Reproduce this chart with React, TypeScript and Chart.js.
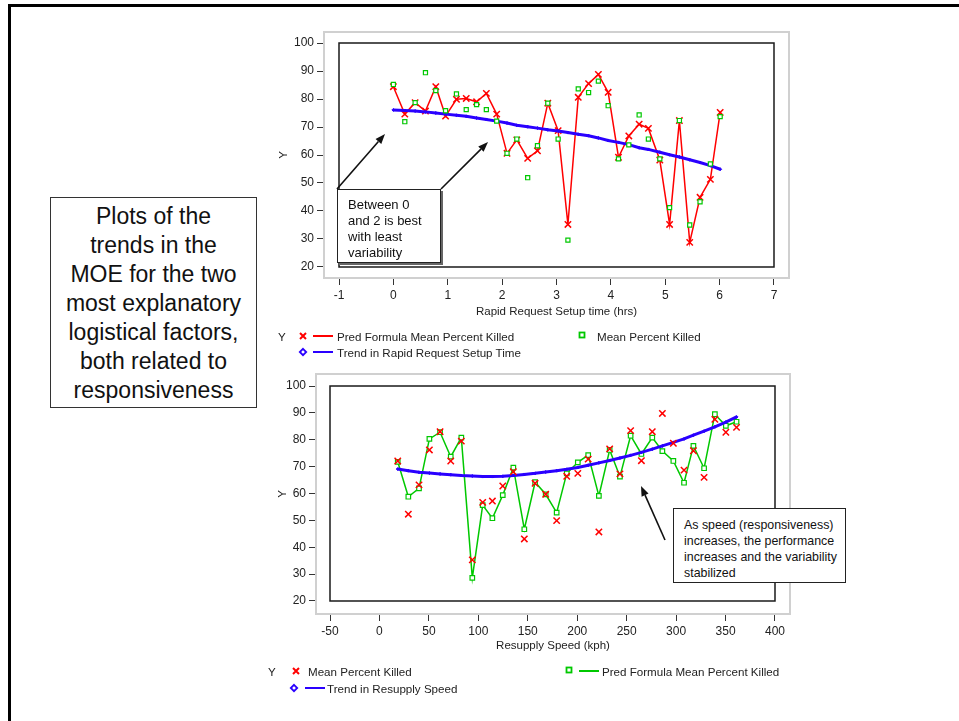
import React, { useEffect, useRef } from "react";
import { Chart, registerables } from "chart.js";

Chart.register(...registerables);

const FONT = '"Liberation Sans", Arial, Helvetica, sans-serif';
const RED = "#ff0000";
const GREEN = "#00c800";
const BLUE = "#2a00ff";

// ---------- Top chart: Rapid Request Setup time ----------
const setupTimes = [0.0, 0.21, 0.4, 0.59, 0.78, 0.96, 1.16, 1.34, 1.53, 1.71, 1.9, 2.09, 2.27, 2.47, 2.65, 2.84, 3.03, 3.21, 3.4, 3.59, 3.77, 3.95, 4.14, 4.33, 4.52, 4.69, 4.9, 5.08, 5.26, 5.45, 5.64, 5.83, 6.01];
const setupPred = [84.4, 74.6, 78.7, 75.7, 84.4, 73.9, 79.9, 80.2, 79.0, 82.0, 74.6, 60.6, 65.4, 58.8, 61.5, 78.5, 68.7, 35.2, 80.6, 85.5, 88.8, 82.4, 59.2, 66.8, 71.0, 69.5, 58.2, 35.2, 72.3, 28.8, 44.9, 51.3, 75.2];
const setupMean = [85.2, 71.9, 78.7, 89.4, 83.0, 75.8, 81.8, 76.2, 78.0, 76.2, 72.1, 60.6, 65.7, 51.9, 63.3, 78.5, 65.7, 29.6, 83.6, 82.3, 86.4, 77.6, 58.6, 63.6, 74.3, 65.7, 58.6, 41.2, 72.3, 35.0, 43.3, 56.8, 73.7];
const setupTrend = [76.1, 75.9, 75.7, 75.4, 75.0, 74.6, 74.2, 73.8, 73.2, 72.7, 72.1, 71.4, 70.6, 70.1, 69.6, 69.0, 68.6, 68.0, 67.4, 66.9, 66.1, 65.2, 64.5, 63.7, 62.6, 62.0, 61.0, 60.1, 59.3, 58.3, 57.3, 56.2, 54.9];
const setupTickValues = [-1, 0, 1, 2, 3, 4, 5, 6, 7];

// ---------- Bottom chart: Resupply Speed ----------
const speeds = [18.5, 29.2, 40, 50.5, 61.3, 72.1, 82.8, 93.9, 104.4, 114.2, 124.7, 135.4, 146.5, 157.4, 168.1, 179.2, 189.4, 200.6, 211.1, 221.9, 232.8, 243.2, 254, 264.9, 275.9, 286.1, 297.2, 308, 317.5, 328.3, 339.2, 350.3, 361.1];
const speedPred = [71.8, 58.8, 61.9, 80.3, 82.8, 73.7, 80.8, 28.6, 55.7, 50.8, 59.4, 69.6, 46.7, 64.2, 59.7, 52.9, 67.5, 71.6, 74.3, 59.1, 76.2, 66.3, 81.5, 74.7, 80.8, 75.8, 72.1, 64.0, 77.7, 69.4, 89.5, 85.2, 86.7];
const speedMean = [72.1, 52.3, 63.2, 76.2, 83.0, 72.1, 79.5, 35.3, 56.7, 57.2, 62.8, 68.1, 43.1, 63.8, 59.7, 49.9, 66.4, 67.5, 72.8, 45.7, 76.6, 67.3, 83.4, 72.2, 83.0, 89.8, 78.7, 68.7, 75.9, 66.0, 87.6, 82.8, 84.6];
const speedTrend = [69.1, 68.5, 67.9, 67.6, 67.3, 67.0, 66.7, 66.5, 66.3, 66.3, 66.4, 66.7, 67.1, 67.5, 68.0, 68.5, 69.0, 69.7, 70.5, 71.4, 72.3, 73.2, 74.2, 75.3, 76.5, 77.7, 79.0, 80.3, 81.7, 83.2, 84.8, 86.6, 88.5];
const speedTickValues = [-50, 0, 50, 100, 150, 200, 250, 300, 350, 400];

const yTickValues = [20, 30, 40, 50, 60, 70, 80, 90, 100];

const pts = (xs: number[], ys: number[]) => xs.map((x, i) => ({ x, y: ys[i] }));

type Spec = {
  left: number; top: number; width: number; height: number;
  xMin: number; xMax: number; yMin: number; yMax: number;
  xTicks: number[]; yTicks: number[];
  frameX: [number, number]; frameY: [number, number];
  xTitle: string; yTitlePad: number; xTitlePad: number;
  yAxisWidth: number; xAxisHeight: number;
  padding: { top: number; right: number; left: number; bottom: number };
  datasets: any[];
};

function ChartPanel({ spec }: { spec: Spec }) {
  const ref = useRef<HTMLCanvasElement>(null);
  useEffect(() => {
    const canvas = ref.current!;
    const frames = {
      id: "frames",
      beforeDatasetsDraw(chart: any) {
        const { ctx, chartArea: a, scales } = chart;
        ctx.save();
        ctx.strokeStyle = "#d0d0d0";
        ctx.lineWidth = 2;
        ctx.strokeRect(a.left + 1, a.top + 1, a.right - a.left - 2, a.bottom - a.top - 2);
        const x0 = scales.x.getPixelForValue(spec.frameX[0]);
        const x1 = scales.x.getPixelForValue(spec.frameX[1]);
        const y0 = scales.y.getPixelForValue(spec.frameY[1]);
        const y1 = scales.y.getPixelForValue(spec.frameY[0]);
        ctx.strokeStyle = "#1a1a1a";
        ctx.lineWidth = 1.5;
        ctx.strokeRect(x0, y0, x1 - x0, y1 - y0);
        ctx.restore();
      },
    };
    const tickFont = { family: FONT, size: 12 };
    const titleFont = { family: FONT, size: 11.5 };
    const chart = new Chart(canvas, {
      type: "scatter",
      data: { datasets: spec.datasets },
      options: {
        responsive: false,
        animation: false,
        devicePixelRatio: 1,
        events: [],
        layout: { padding: spec.padding },
        plugins: { legend: { display: false }, tooltip: { enabled: false } },
        scales: {
          x: {
            type: "linear",
            position: "bottom",
            min: spec.xMin,
            max: spec.xMax,
            afterBuildTicks: (s: any) => {
              s.ticks = spec.xTicks.map((v) => ({ value: v }));
            },
            afterFit: (s: any) => {
              s.height = spec.xAxisHeight;
            },
            grid: { drawOnChartArea: false, drawTicks: true, tickLength: 6, color: "#333", lineWidth: 1 },
            border: { display: false },
            ticks: { font: tickFont, color: "#222", padding: 3, maxRotation: 0, autoSkip: false },
            title: { display: true, text: spec.xTitle, font: titleFont, color: "#222", padding: { top: 0, bottom: spec.xTitlePad } },
          },
          y: {
            type: "linear",
            position: "left",
            min: spec.yMin,
            max: spec.yMax,
            afterBuildTicks: (s: any) => {
              s.ticks = spec.yTicks.map((v) => ({ value: v }));
            },
            afterFit: (s: any) => {
              s.width = spec.yAxisWidth;
            },
            grid: { drawOnChartArea: false, drawTicks: true, tickLength: 6, color: "#333", lineWidth: 1 },
            border: { display: false },
            ticks: { font: tickFont, color: "#222", padding: 3, autoSkip: false },
            title: { display: true, text: "Y", font: titleFont, color: "#222", padding: { top: spec.yTitlePad, bottom: 0 } },
          },
        },
      } as any,
      plugins: [frames],
    });
    return () => chart.destroy();
  }, [spec]);
  return (
    <canvas
      ref={ref}
      width={spec.width}
      height={spec.height}
      style={{ position: "absolute", left: spec.left, top: spec.top, width: spec.width, height: spec.height }}
    />
  );
}

const topSpec: Spec = {
  left: 270, top: 20, width: 530, height: 300,
  xMin: -1.2943, xMax: 7.2943, yMin: 15.714, yMax: 104.286,
  xTicks: setupTickValues, yTicks: yTickValues,
  frameX: [-1, 7], frameY: [20, 100],
  xTitle: "Rapid Request Setup time (hrs)", yTitlePad: 6.6, xTitlePad: 1.6,
  yAxisWidth: 53, xAxisHeight: 41,
  padding: { top: 11, right: 10, left: 0, bottom: 0 },
  datasets: [
    {
      label: "Mean Percent Killed",
      data: pts(setupTimes, setupMean),
      showLine: false,
      pointStyle: "rect",
      pointRadius: 2.9,
      pointBorderWidth: 1.2,
      pointBorderColor: GREEN,
      pointBackgroundColor: "#ffffff",
      order: 0,
    },
    {
      label: "Trend in Rapid Request Setup Time",
      data: pts(setupTimes, setupTrend),
      showLine: true,
      tension: 0,
      borderColor: BLUE,
      borderWidth: 3,
      pointStyle: "rectRot",
      pointRadius: 1.5,
      pointBorderWidth: 1,
      pointBorderColor: BLUE,
      pointBackgroundColor: BLUE,
      order: 1,
    },
    {
      label: "Pred Formula Mean Percent Killed",
      data: pts(setupTimes, setupPred),
      showLine: true,
      tension: 0,
      borderColor: RED,
      borderWidth: 1.5,
      pointStyle: "crossRot",
      pointRadius: 4.5,
      pointBorderWidth: 1.5,
      pointBorderColor: RED,
      pointBackgroundColor: RED,
      order: 2,
    },
  ],
};

const bottomSpec: Spec = {
  left: 262, top: 362, width: 538, height: 298,
  xMin: -65.17, xMax: 416.18, yMin: 14.79, yMax: 104.84,
  xTicks: speedTickValues, yTicks: yTickValues,
  frameX: [-50, 400], frameY: [20, 100],
  xTitle: "Resupply Speed (kph)", yTitlePad: 14.1, xTitlePad: 7.1,
  yAxisWidth: 53, xAxisHeight: 45,
  padding: { top: 11, right: 9, left: 0, bottom: 0 },
  datasets: [
    {
      label: "Mean Percent Killed",
      data: pts(speeds, speedMean),
      showLine: false,
      pointStyle: "crossRot",
      pointRadius: 4.5,
      pointBorderWidth: 1.5,
      pointBorderColor: RED,
      pointBackgroundColor: RED,
      order: 0,
    },
    {
      label: "Trend in Resupply Speed",
      data: pts(speeds, speedTrend),
      showLine: true,
      tension: 0,
      borderColor: BLUE,
      borderWidth: 3,
      pointStyle: "rectRot",
      pointRadius: 1.5,
      pointBorderWidth: 1,
      pointBorderColor: BLUE,
      pointBackgroundColor: BLUE,
      order: 1,
    },
    {
      label: "Pred Formula Mean Percent Killed",
      data: pts(speeds, speedPred),
      showLine: true,
      tension: 0,
      borderColor: GREEN,
      borderWidth: 1.5,
      pointStyle: "rect",
      pointRadius: 3.2,
      pointBorderWidth: 1.2,
      pointBorderColor: GREEN,
      pointBackgroundColor: "#ffffff",
      order: 2,
    },
  ],
};

function Arrow({ x1, y1, x2, y2 }: { x1: number; y1: number; x2: number; y2: number }) {
  const dx = x2 - x1;
  const dy = y2 - y1;
  const len = Math.hypot(dx, dy);
  const ux = dx / len;
  const uy = dy / len;
  const hl = 10;
  const hw = 3.8;
  const bx = x2 - ux * hl;
  const by = y2 - uy * hl;
  const p = `${x2},${y2} ${bx - uy * hw},${by + ux * hw} ${bx + uy * hw},${by - ux * hw}`;
  return (
    <g>
      <line x1={x1} y1={y1} x2={bx} y2={by} stroke="#111" strokeWidth={1.6} />
      <polygon points={p} fill="#111" />
    </g>
  );
}

const XMark = ({ x, y }: { x: number; y: number }) => (
  <path d={`M${x - 3} ${y - 3} L${x + 3} ${y + 3} M${x + 3} ${y - 3} L${x - 3} ${y + 3}`} stroke={RED} strokeWidth={2} />
);
const SqMark = ({ x, y }: { x: number; y: number }) => (
  <rect x={x - 2.5} y={y - 2.5} width={5} height={5} fill="#fff" stroke={GREEN} strokeWidth={1.8} />
);
const DiaMark = ({ x, y }: { x: number; y: number }) => (
  <path d={`M${x} ${y - 3.2} L${x + 3.2} ${y} L${x} ${y + 3.2} L${x - 3.2} ${y} Z`} fill="#fff" stroke={BLUE} strokeWidth={1.8} />
);

const LT = ({ x, y, children }: { x: number; y: number; children: React.ReactNode }) => (
  <text x={x} y={y} dominantBaseline="central" fontFamily={FONT} fontSize={11.6} fill="#222">
    {children}
  </text>
);

const leftBoxLines = ["Plots of the", "trends in the", "MOE for the two", "most explanatory", "logistical factors,", "both related to", "responsiveness"];
const topNoteLines = ["Between 0", "and 2 is best", "with least", "variability"];
const bottomNoteLines = ["As speed (responsiveness)", "increases, the performance", "increases and the variability", "stabilized"];

export default function App() {
  return (
    <div style={{ position: "fixed", left: 0, top: 0, width: 959, height: 721, overflow: "hidden", background: "#fff", fontFamily: FONT }}>
      <div style={{ position: "absolute", left: 8, top: 4, width: 1000, height: 800, border: "3px solid #000" }} />

      <div
        style={{
          position: "absolute", left: 50, top: 197, width: 207, height: 211, boxSizing: "border-box",
          border: "1px solid #333", background: "#fff", paddingTop: 4, textAlign: "center",
          fontSize: 23, lineHeight: "29px", color: "#111",
        }}
      >
        {leftBoxLines.map((l) => (
          <div key={l} style={{ whiteSpace: "nowrap" }}>{l}</div>
        ))}
      </div>

      <ChartPanel spec={topSpec} />
      <ChartPanel spec={bottomSpec} />

      <div
        style={{
          position: "absolute", left: 337, top: 189, width: 104, height: 74, boxSizing: "border-box",
          border: "1px solid #222", background: "#fff", boxShadow: "2px 2px 0 #666",
          padding: "7px 0 0 10px", fontSize: 13, lineHeight: "16px", color: "#111",
        }}
      >
        {topNoteLines.map((l) => (
          <div key={l} style={{ whiteSpace: "nowrap" }}>{l}</div>
        ))}
      </div>

      <div
        style={{
          position: "absolute", left: 673, top: 508, width: 173, height: 75, boxSizing: "border-box",
          border: "1px solid #222", background: "#fff",
          padding: "8px 0 0 10px", fontSize: 12.4, lineHeight: "16px", color: "#111",
        }}
      >
        {bottomNoteLines.map((l) => (
          <div key={l} style={{ whiteSpace: "nowrap" }}>{l}</div>
        ))}
      </div>

      <svg width={959} height={721} style={{ position: "absolute", left: 0, top: 0, pointerEvents: "none" }}>
        <Arrow x1={337} y1={189} x2={385} y2={134} />
        <Arrow x1={441} y1={189} x2={488} y2={142} />
        <Arrow x1={665} y1={540} x2={641} y2={486} />

        {/* top legend */}
        <LT x={278} y={336}>Y</LT>
        <XMark x={303} y={336} />
        <line x1={313} y1={336} x2={333} y2={336} stroke={RED} strokeWidth={2} />
        <LT x={337} y={336}>Pred Formula Mean Percent Killed</LT>
        <SqMark x={582} y={335} />
        <LT x={597} y={336}>Mean Percent Killed</LT>
        <DiaMark x={303} y={352} />
        <line x1={313} y1={352} x2={333} y2={352} stroke={BLUE} strokeWidth={2} />
        <LT x={337} y={352}>Trend in Rapid Request Setup Time</LT>

        {/* bottom legend */}
        <LT x={268} y={671}>Y</LT>
        <XMark x={296} y={671} />
        <LT x={308} y={671}>Mean Percent Killed</LT>
        <SqMark x={569} y={670} />
        <line x1={579} y1={671} x2={599} y2={671} stroke={GREEN} strokeWidth={2} />
        <LT x={602} y={671}>Pred Formula Mean Percent Killed</LT>
        <DiaMark x={294} y={688} />
        <line x1={305} y1={688} x2={325} y2={688} stroke={BLUE} strokeWidth={2} />
        <LT x={327} y={688}>Trend in Resupply Speed</LT>
      </svg>
    </div>
  );
}
